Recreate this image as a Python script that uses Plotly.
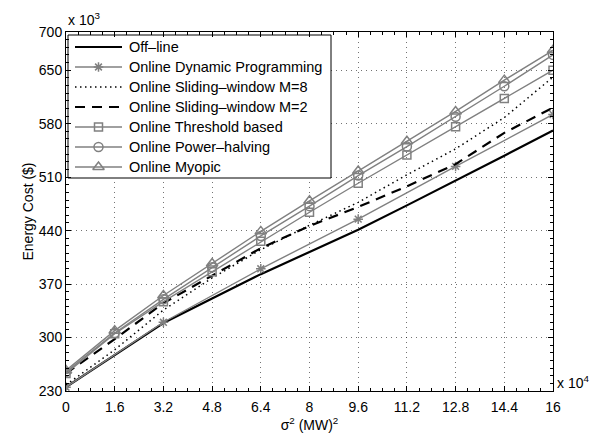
import plotly.graph_objects as go

# sigma^2 values (in units of 1e4 (MW)^2)
sigma2 = [0, 1.6, 3.2, 4.8, 6.4, 8, 9.6, 11.2, 12.8, 14.4, 16]
sigma2_dp = [0, 3.2, 6.4, 9.6, 12.8, 16]

# Energy cost (in units of 1e3 $)
offline = [235, 277, 319, 351, 383, 412, 441, 473, 505, 538, 571]
online_dp = [235, 320, 390, 455, 524, 592]
sliding_m8 = [238, 284, 336, 378, 415, 447, 477, 513, 547, 588, 641]
sliding_m2 = [253, 298, 345, 381, 417, 446, 471, 498, 527, 568, 601]
threshold = [253, 305, 347, 386, 426, 464, 502, 539, 576, 613, 650]
power_halving = [255, 306, 350, 392, 433, 472, 512, 550, 589, 629, 670]
myopic = [257, 309, 355, 397, 439, 479, 518, 557, 596, 637, 676]

x_ticks = [0, 1.6, 3.2, 4.8, 6.4, 8, 9.6, 11.2, 12.8, 14.4, 16]
y_ticks = [230, 300, 370, 440, 510, 580, 650, 700]

X_RANGE = [0, 16]
Y_RANGE = [230, 700]

GRAY = "rgb(128,128,128)"
FONT = "Liberation Sans, Arial, Helvetica, sans-serif"

# Plot area in pixels
PX_LEFT, PX_RIGHT, PX_TOP, PX_BOTTOM = 66, 553, 32, 391

# Series styles: (name, x, y, line style, marker style)
series = [
    ("Off\u2013line", sigma2, offline,
     dict(color="black", width=2.2), None),
    ("Online Dynamic Programming", sigma2_dp, online_dp,
     dict(color=GRAY, width=1.4),
     dict(symbol="asterisk-open", size=8, color=GRAY, line=dict(color=GRAY, width=1.5))),
    ("Online Sliding\u2013window M=8", sigma2, sliding_m8,
     dict(color="black", width=1.5, dash="1.5px,3.5px"), None),
    ("Online Sliding\u2013window M=2", sigma2, sliding_m2,
     dict(color="black", width=2.2, dash="10px,7px"), None),
    ("Online Threshold based", sigma2, threshold,
     dict(color=GRAY, width=1.4),
     dict(symbol="square-open", size=8, color=GRAY, line=dict(color=GRAY, width=1.5))),
    ("Online Power\u2013halving", sigma2, power_halving,
     dict(color=GRAY, width=1.4),
     dict(symbol="circle-open", size=9, color=GRAY, line=dict(color=GRAY, width=1.5))),
    ("Online Myopic", sigma2, myopic,
     dict(color=GRAY, width=1.4),
     dict(symbol="triangle-up-open", size=10, color=GRAY, line=dict(color=GRAY, width=1.5))),
]

fig = go.Figure()

for name, xs, ys, line, marker in series:
    fig.add_trace(go.Scatter(
        x=xs, y=ys, name=name, mode="lines+markers" if marker else "lines",
        line=line, marker=marker, showlegend=False))


def px_to_x(px):
    return X_RANGE[0] + (px - PX_LEFT) / (PX_RIGHT - PX_LEFT) * (X_RANGE[1] - X_RANGE[0])


def px_to_y(py):
    return Y_RANGE[0] + (PX_BOTTOM - py) / (PX_BOTTOM - PX_TOP) * (Y_RANGE[1] - Y_RANGE[0])


# Legend box and entries, laid out in pixels on an overlay axis
LEG_X0, LEG_X1 = 68, 331
LEG_Y0, LEG_Y1 = 35, 178
ROW0, ROW_STEP = 47, 20
SAMPLE_X0, SAMPLE_X1 = 75, 122
TEXT_X = 127

annotations = []
for i, (name, xs, ys, line, marker) in enumerate(series):
    yrow = ROW0 + i * ROW_STEP
    fig.add_trace(go.Scatter(
        x=[SAMPLE_X0, SAMPLE_X1], y=[yrow, yrow], mode="lines",
        line=line, xaxis="x2", yaxis="y2", showlegend=False, hoverinfo="skip"))
    if marker:
        fig.add_trace(go.Scatter(
            x=[(SAMPLE_X0 + SAMPLE_X1) / 2], y=[yrow], mode="markers",
            marker=marker, xaxis="x2", yaxis="y2", showlegend=False, hoverinfo="skip"))
    annotations.append(dict(
        text=name, xref="x2", yref="y2", x=TEXT_X, y=yrow,
        xanchor="left", yanchor="middle", showarrow=False,
        font=dict(family=FONT, size=14.5, color="black")))

axis_common = dict(
    showline=True, linecolor="black", linewidth=1, mirror="ticks",
    ticks="inside", ticklen=5, tickcolor="black", automargin=False,
    showgrid=True, gridcolor="rgba(0,0,0,0.55)", griddash="1px,4px", gridwidth=1,
    zeroline=False, tickfont=dict(family=FONT, size=14, color="black"),
)

xaxis = dict(
    range=X_RANGE, tickvals=x_ticks, ticktext=[f"{v:g}" for v in x_ticks],
    ticklabelstandoff=3,
    minor=dict(ticks="inside", ticklen=3, dtick=0.4, tick0=0, tickcolor="black", showgrid=False),
    title=dict(text="\u03c3<sup>2</sup> (MW)<sup>2</sup>", font=dict(family=FONT, size=14, color="black"),
               standoff=6),
    **axis_common)
yaxis = dict(
    range=Y_RANGE, tickvals=y_ticks, ticktext=[str(v) for v in y_ticks],
    minor=dict(ticks="inside", ticklen=3, dtick=10, tick0=230, tickcolor="black", showgrid=False),
    title=dict(text="Energy Cost ($)", font=dict(family=FONT, size=14, color="black"), standoff=1),
    **axis_common)

fig.update_layout(
    width=600, height=439,
    margin=dict(l=PX_LEFT, r=600 - PX_RIGHT, t=PX_TOP, b=439 - PX_BOTTOM),
    paper_bgcolor="white", plot_bgcolor="white",
    font=dict(family=FONT, size=14, color="black"),
    showlegend=False,
    xaxis=xaxis,
    yaxis=yaxis,
    xaxis2=dict(overlaying="x", anchor="y2", range=[PX_LEFT, PX_RIGHT], visible=False,
                showgrid=False, fixedrange=True),
    yaxis2=dict(overlaying="y", anchor="x2", range=[PX_BOTTOM, PX_TOP], visible=False,
                showgrid=False, fixedrange=True),
    shapes=[dict(type="rect", xref="x", yref="y",
                 x0=px_to_x(LEG_X0), x1=px_to_x(LEG_X1),
                 y0=px_to_y(LEG_Y0), y1=px_to_y(LEG_Y1),
                 line=dict(color="black", width=1), fillcolor="white", layer="between")],
    annotations=annotations + [
        dict(text="x 10<sup>3</sup>", xref="paper", yref="paper", x=0, y=1,
             xanchor="left", yanchor="bottom", yshift=2, showarrow=False,
             font=dict(family=FONT, size=14, color="black")),
        dict(text="x 10<sup>4</sup>", xref="paper", yref="paper", x=1, y=0,
             xanchor="left", yanchor="bottom", xshift=2, yshift=-2, showarrow=False,
             font=dict(family=FONT, size=14, color="black")),
    ],
)

fig.write_html("out.html")
